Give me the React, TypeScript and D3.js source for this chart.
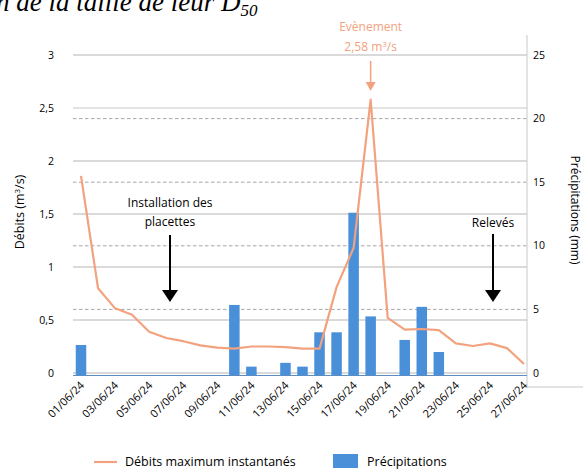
import React from "react";
import * as d3 from "d3";

const dates = [
  "01/06/24","02/06/24","03/06/24","04/06/24","05/06/24","06/06/24","07/06/24","08/06/24","09/06/24",
  "10/06/24","11/06/24","12/06/24","13/06/24","14/06/24","15/06/24","16/06/24","17/06/24","18/06/24",
  "19/06/24","20/06/24","21/06/24","22/06/24","23/06/24","24/06/24","25/06/24","26/06/24","27/06/24",
];
const debits = [
  1.86, 0.80, 0.61, 0.55, 0.39, 0.33, 0.30, 0.26, 0.24, 0.23, 0.25, 0.25, 0.245, 0.23, 0.23,
  0.81, 1.18, 2.58, 0.52, 0.41, 0.415, 0.405, 0.28, 0.255, 0.28, 0.235, 0.085,
];
const precipitations = [
  2.2, 0, 0, 0, 0, 0, 0, 0, 0, 5.35, 0.5, 0, 0.8, 0.5, 3.2, 3.2, 12.6, 4.45,
  0, 2.6, 5.2, 1.65, 0, 0, 0, 0, 0,
];
const leftTicks = [0, 0.5, 1, 1.5, 2, 2.5, 3];
const rightTicks = [0, 5, 10, 15, 20, 25];

const FONT = "'Open Sans', 'Noto Sans', sans-serif";
const ORANGE = "#F2A27E";
const BLUE = "#4A90D9";

export default function App() {
  const W = 583, H = 470;
  const plotL = 73, plotR = 527;
  const x = d3.scalePoint<string>().domain(dates).range([81, 524]);
  const yL = d3.scaleLinear().domain([0, 3]).range([373, 55]);
  const yR = d3.scaleLinear().domain([0, 25]).range([373, 55]);
  const line = d3.line<number>().x((_, i) => x(dates[i])!).y((d) => yL(d));
  const fmt = (v: number) => String(v).replace(".", ",");
  const barW = 10.5;
  const baseY = 375.5;
  const peakIdx = debits.indexOf(d3.max(debits)!);
  const px = x(dates[peakIdx])!;

  return (
    <svg width={W} height={H} style={{ position: "absolute", left: 0, top: 0, background: "#fff" }} fontFamily={FONT}>
      {/* title fragment */}
      <text x={-4} y={11} fontFamily="'Liberation Serif', 'DejaVu Serif', serif" fontStyle="italic" fontSize={27} fill="#000">
        n de la taille de leur D<tspan fontSize={17} dy={5}>50</tspan>
      </text>

      {/* right dashed grid (precipitations) */}
      {rightTicks.filter((t) => t > 0 && t < 25).map((t) => (
        <line key={"rd" + t} x1={plotL} x2={plotR} y1={yR(t)} y2={yR(t)} stroke="#A6A6A6" strokeDasharray="3.5,2.5" strokeWidth={1} />
      ))}
      {/* left solid grid */}
      {leftTicks.map((t) => (
        <line key={"lg" + t} x1={plotL} x2={plotR} y1={yL(t)} y2={yL(t)}
          stroke={t === 2.5 ? "#E3E3E3" : "#B5B5B5"} strokeWidth={t === 2.5 ? 2 : 1.2} />
      ))}

      {/* frame lines */}
      <line x1={plotR} x2={plotR} y1={35} y2={387} stroke="#C8C8C8" strokeWidth={1} />
      <line x1={plotR} x2={W} y1={387} y2={387} stroke="#C8C8C8" strokeWidth={1} />

      {/* bars */}
      {precipitations.map((v, i) =>
        v > 0 ? (
          <rect key={"b" + i} x={x(dates[i])! - barW / 2} y={yR(v)} width={barW} height={baseY - yR(v)} fill={BLUE} />
        ) : null
      )}
      <line x1={plotL} x2={plotR} y1={baseY} y2={baseY} stroke="#5B8DC2" strokeWidth={1} />

      {/* line */}
      <path d={line(debits)!} fill="none" stroke={ORANGE} strokeWidth={2.2} strokeLinejoin="round" />

      {/* left ticks */}
      {leftTicks.map((t) => (
        <text key={"lt" + t} x={54} y={yL(t)} dy="0.35em" textAnchor="end" fontSize={10.5} fill="#000">{fmt(t)}</text>
      ))}
      {/* right ticks */}
      {rightTicks.map((t) => (
        <text key={"rt" + t} x={533} y={yR(t)} dy="0.35em" textAnchor="start" fontSize={10.5} fill="#000">{t}</text>
      ))}
      {/* x labels */}
      {dates.map((d, i) =>
        i % 2 === 0 ? (
          <text key={"x" + i} transform={`translate(${x(d)! + 4},${386}) rotate(-45)`} textAnchor="end" fontSize={11} fill="#000">{d}</text>
        ) : null
      )}

      {/* axis titles */}
      <text transform={`translate(24,212) rotate(-90)`} textAnchor="middle" fontSize={12.5} fill="#000">
        Débits (m<tspan fontSize={8} dy={-4}>3</tspan><tspan dy={4}>/s)</tspan>
      </text>
      <text transform={`translate(571,210) rotate(90)`} textAnchor="middle" fontSize={12} fill="#000">Précipitations (mm)</text>

      {/* annotations */}
      <text x={170} y={207} textAnchor="middle" fontSize={12} fill="#000">Installation des</text>
      <text x={170} y={226} textAnchor="middle" fontSize={12} fill="#000">placettes</text>
      <line x1={170} x2={170} y1={235} y2={292} stroke="#000" strokeWidth={2} />
      <path d="M162,290 L178,290 L170,302 Z" fill="#000" />

      <text x={493} y={227} textAnchor="middle" fontSize={12} fill="#000">Relevés</text>
      <line x1={493} x2={493} y1={234} y2={292} stroke="#000" strokeWidth={2} />
      <path d="M485,290 L501,290 L493,302 Z" fill="#000" />

      <text x={px} y={31} textAnchor="middle" fontSize={12} fill={ORANGE}>Evènement</text>
      <text x={px} y={51} textAnchor="middle" fontSize={12} fill={ORANGE}>
        2,58 m<tspan fontSize={8} dy={-4}>3</tspan><tspan dy={4}>/s</tspan>
      </text>
      <line x1={px} x2={px} y1={61} y2={84} stroke={ORANGE} strokeWidth={1.5} />
      <path d={`M${px - 5},82 L${px + 5},82 L${px},91 Z`} fill={ORANGE} />

      {/* legend */}
      <line x1={94} x2={117} y1={462} y2={462} stroke={ORANGE} strokeWidth={2.2} />
      <text x={125} y={466} fontSize={12.5} fill="#000">Débits maximum instantanés</text>
      <rect x={333} y={454} width={25} height={14} fill={BLUE} />
      <text x={367} y={466} fontSize={12.5} fill="#000">Précipitations</text>
    </svg>
  );
}
